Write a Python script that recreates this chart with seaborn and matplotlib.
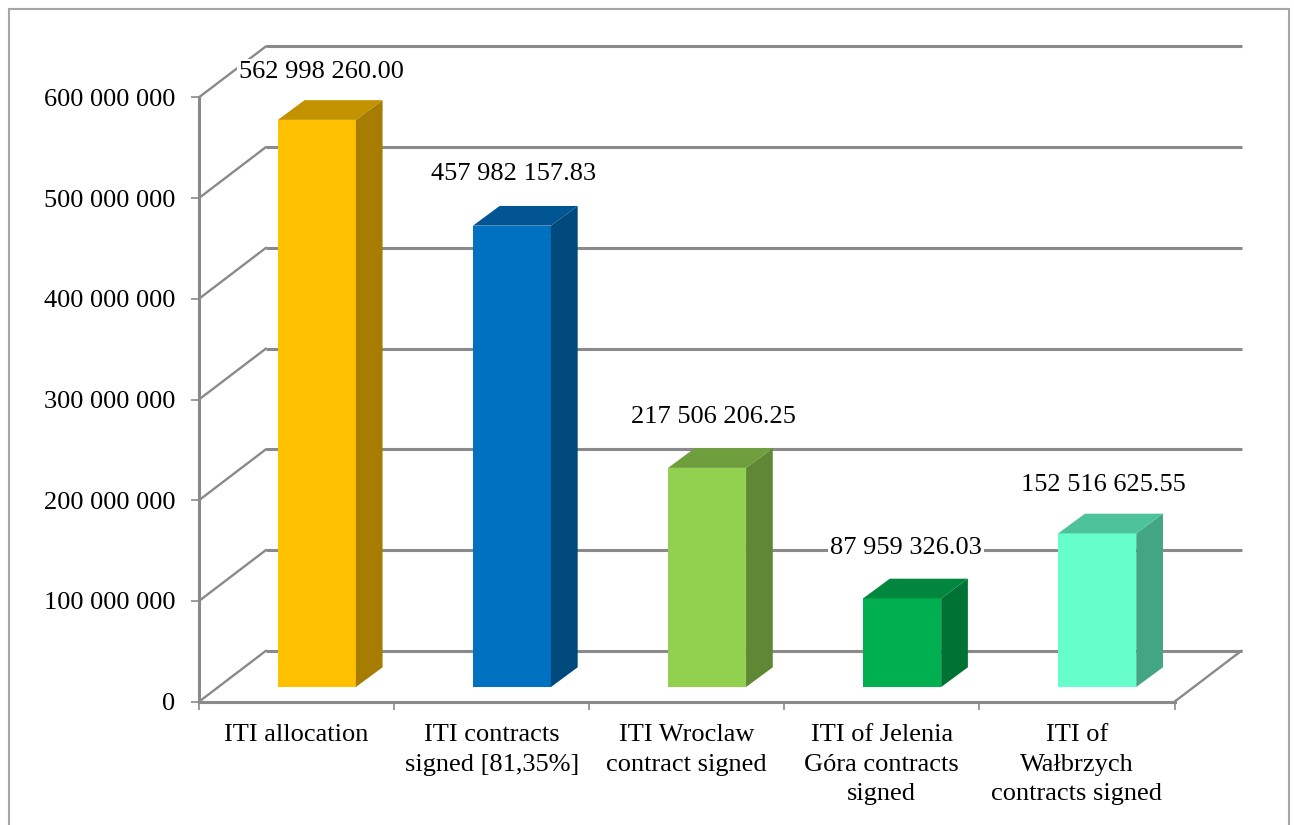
import matplotlib
matplotlib.use("Agg")
import matplotlib.pyplot as plt
from matplotlib.colors import to_rgb
from matplotlib.patches import Polygon, Rectangle
import seaborn as sns

categories = ["ITI allocation", "ITI contracts\nsigned [81,35%]", "ITI Wroclaw\ncontract signed",
              "ITI of Jelenia\nGóra contracts\nsigned", "ITI of\nWałbrzych\ncontracts signed"]
values = [562998260.00, 457982157.83, 217506206.25, 87959326.03, 152516625.55]
value_labels = ["562 998 260.00", "457 982 157.83", "217 506 206.25", "87 959 326.03", "152 516 625.55"]
colors = ["#FFC000", "#0070C0", "#92D050", "#00B050", "#66FFCC"]
y_ticks = [0, 100e6, 200e6, 300e6, 400e6, 500e6, 600e6]
y_tick_labels = ["0", "100 000 000", "200 000 000", "300 000 000", "400 000 000", "500 000 000", "600 000 000"]
label_offsets = [(5, 47.5), (1.5, 51.5), (6.5, 50.5), (3.5, 50.5), (6.5, 48.5)]

W, H = 1294, 825
sns.set_theme(style="white")
plt.rcParams["font.family"] = ["Liberation Serif", "DejaVu Serif"]

fig = plt.figure(figsize=(W / 100, H / 100), dpi=100, facecolor="white")
L, R, T, B = 199, 1174.5, 97.3, 701.7
ax = fig.add_axes([L / W, 1 - B / H, (R - L) / W, (B - T) / H])
ax.patch.set_alpha(0)

GRAY = "#8A8A8A"
FS = 19
sns.barplot(x=categories, y=values, hue=categories, palette=colors, saturation=1,
            width=0.4, legend=False, dodge=False, ax=ax, zorder=3, linewidth=0)
ax.set_xlim(-0.5, 4.5)
ax.set_ylim(0, 600e6)

px_x = 1 / ((R - L) / 5)
px_y = 600e6 / (B - T)
wall_dx, wall_dy = 67 * px_x, 51 * px_y
shift_x, shift_y = 20.3 * px_x, 14.7 * px_y
depth_x, depth_y = 26.7 * px_x, 19.7 * px_y

for t in y_ticks:
    ax.plot([-0.5 + wall_dx, 4.5 + wall_dx], [t + wall_dy] * 2, color=GRAY, lw=2.2,
            clip_on=False, zorder=1, solid_capstyle="butt")
    ax.plot([-0.5, -0.5 + wall_dx], [t, t + wall_dy], color=GRAY, lw=1.7, clip_on=False, zorder=1)
ax.plot([4.5, 4.5 + wall_dx], [0, wall_dy], color=GRAY, lw=1.7, clip_on=False, zorder=1)


def shade(c, f):
    return tuple(v * f for v in to_rgb(c))


bars = sorted(ax.patches, key=lambda p: p.get_x())
for bar, color, text, (ox, oy) in zip(bars, colors, value_labels, label_offsets):
    bar.set_x(bar.get_x() + shift_x)
    bar.set_y(shift_y)
    x0, x1 = bar.get_x(), bar.get_x() + bar.get_width()
    y0, y1 = bar.get_y(), bar.get_y() + bar.get_height()
    ax.add_patch(Polygon([(x1, y0), (x1 + depth_x, y0 + depth_y), (x1 + depth_x, y1 + depth_y), (x1, y1)],
                         facecolor=shade(color, 0.65), edgecolor="none", zorder=3, clip_on=False))
    ax.add_patch(Polygon([(x0, y1), (x1, y1), (x1 + depth_x, y1 + depth_y), (x0 + depth_x, y1 + depth_y)],
                         facecolor=shade(color, 0.76), edgecolor="none", zorder=3, clip_on=False))
    ax.annotate(text, ((x0 + x1) / 2, y1), xytext=(ox * 0.72, oy * 0.72), textcoords="offset points",
                ha="center", va="center", fontsize=FS, color="black", zorder=5, annotation_clip=False,
                bbox=dict(facecolor="white", edgecolor="none", pad=1.5))

for side in ("top", "right"):
    ax.spines[side].set_visible(False)
for side in ("left", "bottom"):
    ax.spines[side].set_color(GRAY)
    ax.spines[side].set_linewidth(2.2)
    ax.spines[side].set_zorder(2)

ax.set_yticks(y_ticks)
ax.set_yticklabels(y_tick_labels)
ax.set_xticks(range(5))
ax.set_xticklabels(categories, linespacing=1.45, va="top")
ax.set_xticks([i - 0.5 for i in range(6)], minor=True)
ax.tick_params(axis="y", which="major", left=True, length=6, width=1.2, color=GRAY, pad=11, labelsize=FS, labelcolor="black")
ax.tick_params(axis="x", which="major", bottom=False, length=0, pad=16, labelsize=FS, labelcolor="black")
ax.tick_params(axis="x", which="minor", bottom=True, length=6, width=1.2, color=GRAY)
ax.grid(False)
ax.set_xlabel("")
ax.set_ylabel("")

fig.add_artist(Rectangle((9 / W, -0.1), (1289 - 9) / W, 1.1 - 9.5 / H, transform=fig.transFigure,
                         facecolor="none", edgecolor="#A6A6A6", linewidth=1.5))
fig.savefig("out.png", dpi=100)
